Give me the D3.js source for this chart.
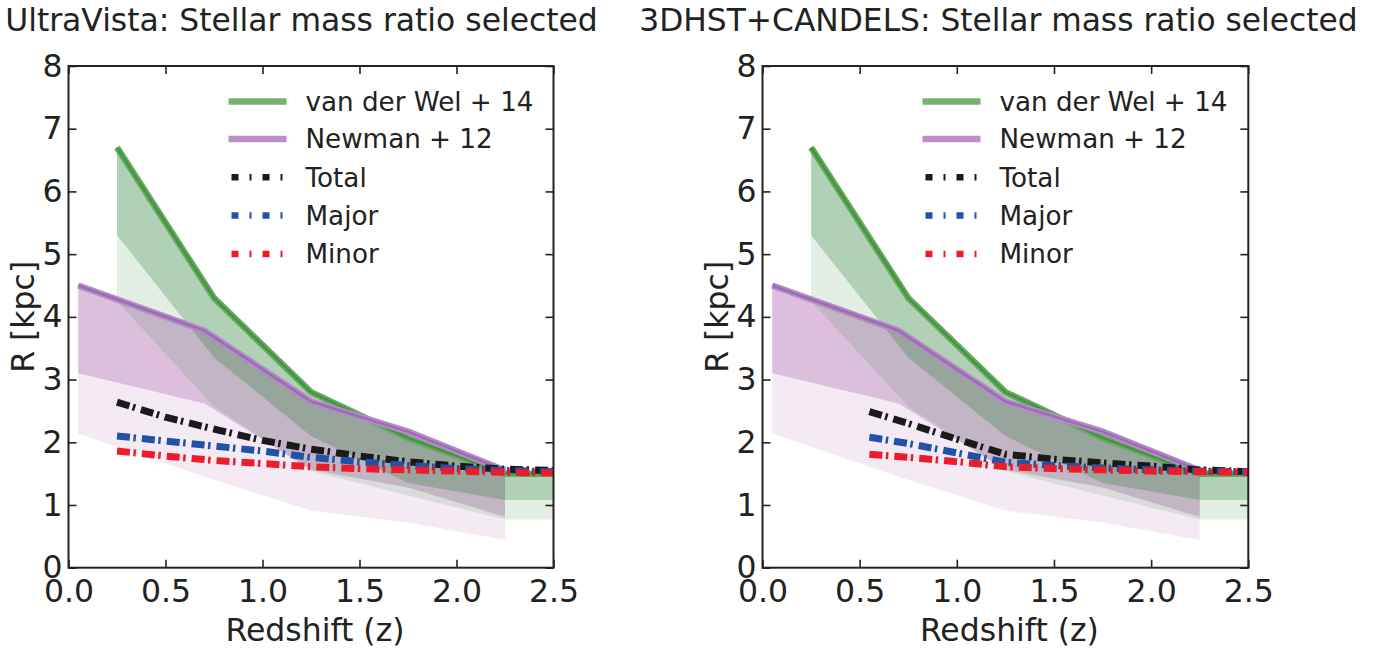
<!DOCTYPE html>
<html><head><meta charset="utf-8">
<script src="https://cdn.jsdelivr.net/npm/d3@7"></script>
<style>
body{margin:0;background:#fff}
svg{display:block}
text{font-family:"DejaVu Sans",sans-serif;fill:#222}
</style>
</head><body>
<svg id="chart" width="1388" height="654"></svg>
<script>
// ---------- data ----------
const titles = ["UltraVista: Stellar mass ratio selected", "3DHST+CANDELS: Stellar mass ratio selected"];
const xTicks = [0, 0.5, 1.0, 1.5, 2.0, 2.5];
const yTicks = [0, 1, 2, 3, 4, 5, 6, 7, 8];
const legendLabels = ["van der Wel + 14", "Newman + 12", "Total", "Major", "Minor"];

// van der Wel + 14 (green)
const zGreen = [0.25, 0.75, 1.25, 1.75, 2.25, 2.5];
const greenLine  = [6.7, 4.3, 2.8, 2.07, 1.5, 1.5];
const greenInner = [5.3, 3.35, 2.1, 1.35, 1.08, 1.08];
const greenOuter = [4.25, 2.57, 1.54, 1.15, 0.77, 0.77];

// Newman + 12 (purple)
const zPurple = [0.05, 0.7, 1.25, 1.75, 2.25];
const purpleLine  = [4.5, 3.78, 2.65, 2.17, 1.55];
const purpleInner = [3.1, 2.62, 1.56, 1.28, 0.81];
const purpleOuter = [2.14, 1.45, 0.91, 0.72, 0.44];

// UltraVista model curves
const zUV = [0.25, 0.5, 0.75, 1.0, 1.25, 1.5, 1.75, 2.0, 2.25, 2.5];
const totalUV = [2.64, 2.4, 2.21, 2.03, 1.89, 1.78, 1.69, 1.62, 1.57, 1.55];
const majorUV = [2.1, 2.02, 1.94, 1.86, 1.76, 1.69, 1.63, 1.58, 1.55, 1.53];
const minorUV = [1.86, 1.78, 1.71, 1.66, 1.61, 1.58, 1.56, 1.54, 1.52, 1.51];

// 3DHST+CANDELS model curves
const zCA = [0.55, 0.75, 1.0, 1.25, 1.5, 1.75, 2.0, 2.25, 2.5];
const totalCA = [2.49, 2.3, 2.05, 1.81, 1.73, 1.67, 1.62, 1.56, 1.53];
const majorCA = [2.08, 1.98, 1.83, 1.68, 1.63, 1.59, 1.56, 1.54, 1.53];
const minorCA = [1.81, 1.76, 1.69, 1.61, 1.58, 1.56, 1.54, 1.53, 1.52];

// ---------- drawing ----------
const svg = d3.select("#chart");
svg.append("rect").attr("width",1388).attr("height",654).attr("fill","#fff");

const panels = [
  {title: titles[0], left: 68.5, right: 553.5, titleX: 301.5, titleSize: 31.4, z: zUV, total: totalUV, major: majorUV, minor: minorUV},
  {title: titles[1], left: 762.5, right: 1248.3, titleX: 998.5, titleSize: 31.3, z: zCA, total: totalCA, major: majorCA, minor: minorCA}
];
const TOP = 66, BOTTOM = 567.7;
const FS = 31.5;
const colTotal = "#1a1a1a", colMajor = "#2152a8", colMinor = "#ec1c2a";

panels.forEach((p, pi) => {
  const x = d3.scaleLinear().domain([0, 2.5]).range([p.left, p.right]);
  const y = d3.scaleLinear().domain([0, 8]).range([BOTTOM, TOP]);
  const g = svg.append("g");

  const clipId = "clip" + pi;
  svg.append("clipPath").attr("id", clipId).append("rect")
    .attr("x", p.left).attr("y", TOP).attr("width", p.right - p.left).attr("height", BOTTOM - TOP);
  const plot = g.append("g").attr("clip-path", `url(#${clipId})`);

  const band = (zs, lo, hi) => d3.area()
    .x((d, i) => x(zs[i])).y0((d, i) => y(lo[i])).y1((d, i) => y(hi[i]))(zs);
  const line = (zs, vs) => d3.line().x((d, i) => x(zs[i])).y((d, i) => y(vs[i]))(zs);

  // purple bands
  plot.append("path").attr("d", band(zPurple, purpleOuter, purpleInner)).attr("fill", "rgb(130,25,130)").attr("fill-opacity", 0.09);
  plot.append("path").attr("d", band(zPurple, purpleInner, purpleLine)).attr("fill", "rgb(130,25,130)").attr("fill-opacity", 0.28);
  // green bands
  plot.append("path").attr("d", band(zGreen, greenOuter, greenInner)).attr("fill", "rgb(0,110,10)").attr("fill-opacity", 0.11);
  plot.append("path").attr("d", band(zGreen, greenInner, greenLine)).attr("fill", "rgb(0,106,16)").attr("fill-opacity", 0.31);

  // literature lines
  plot.append("path").attr("d", line(zGreen, greenLine)).attr("fill", "none").attr("stroke", "#66a960").attr("stroke-width", 6.5);
  plot.append("path").attr("d", line(zGreen, greenLine)).attr("fill", "none").attr("stroke", "#449540").attr("stroke-width", 2.5);
  plot.append("path").attr("d", line(zPurple, purpleLine)).attr("fill", "none").attr("stroke", "#b38bc6").attr("stroke-width", 6.5);
  plot.append("path").attr("d", line(zPurple, purpleLine)).attr("fill", "none").attr("stroke", "#9a6db2").attr("stroke-width", 2.5);

  // model dash-dot lines
  [[p.total, colTotal], [p.major, colMajor], [p.minor, colMinor]].forEach(([vals, c]) => {
    plot.append("path").attr("d", line(p.z, vals)).attr("fill", "none").attr("stroke", c)
      .attr("stroke-width", 7).attr("stroke-dasharray", "13,3.5,2.5,6").attr("stroke-linecap", "butt");
  });

  // axes
  const styleAxis = sel => {
    sel.select(".domain").remove();
    sel.selectAll(".tick line").attr("stroke", "#222").attr("stroke-width", 1.6);
    sel.selectAll("text").attr("font-size", FS).attr("font-family", '"DejaVu Sans", sans-serif').attr("fill", "#222");
  };
  g.append("g").attr("transform", `translate(0,${BOTTOM})`)
    .call(d3.axisBottom(x).tickValues(xTicks).tickFormat(d3.format(".1f")).tickSizeInner(-8).tickSizeOuter(0).tickPadding(12))
    .call(styleAxis);
  g.append("g").attr("transform", `translate(0,${TOP})`)
    .call(d3.axisTop(x).tickValues(xTicks).tickFormat("").tickSizeInner(-8).tickSizeOuter(0))
    .call(styleAxis);
  g.append("g").attr("transform", `translate(${p.left},0)`)
    .call(d3.axisLeft(y).tickValues(yTicks).tickFormat(d3.format("d")).tickSizeInner(-8).tickSizeOuter(0).tickPadding(6))
    .call(styleAxis);
  g.append("g").attr("transform", `translate(${p.right},0)`)
    .call(d3.axisRight(y).tickValues(yTicks).tickFormat("").tickSizeInner(-8).tickSizeOuter(0))
    .call(styleAxis);

  g.append("rect").attr("x", p.left).attr("y", TOP).attr("width", p.right - p.left).attr("height", BOTTOM - TOP)
    .attr("fill", "none").attr("stroke", "#222").attr("stroke-width", 2);

  // labels
  g.append("text").attr("x", p.titleX).attr("y", 31).attr("text-anchor", "middle").attr("font-size", p.titleSize).text(p.title);
  g.append("text").attr("x", (p.left + p.right) / 2 + 4).attr("y", 641).attr("text-anchor", "middle").attr("font-size", FS).text("Redshift (z)");
  g.append("text").attr("transform", `translate(${p.left - 35},${(TOP + BOTTOM) / 2}) rotate(-90)`)
    .attr("text-anchor", "middle").attr("font-size", FS).text("R [kpc]");

  // legend
  const lx0 = p.left + 160, lx1 = p.left + 218, tx = p.left + 237;
  const rows = [101.5, 139, 177.3, 215.5, 254];
  const leg = g.append("g");
  leg.append("line").attr("x1", lx0).attr("x2", lx1).attr("y1", rows[0]).attr("y2", rows[0]).attr("stroke", "#78b26f").attr("stroke-width", 6.5);
  leg.append("line").attr("x1", lx0).attr("x2", lx1).attr("y1", rows[1]).attr("y2", rows[1]).attr("stroke", "#bb90c6").attr("stroke-width", 6.5);
  [colTotal, colMajor, colMinor].forEach((c, i) => {
    leg.append("line").attr("x1", lx0 + 3).attr("x2", lx1 - 4).attr("y1", rows[i + 2]).attr("y2", rows[i + 2])
      .attr("stroke", c).attr("stroke-width", 6.5).attr("stroke-dasharray", "7,11,2,11");
  });
  legendLabels.forEach((t, i) => {
    leg.append("text").attr("x", tx).attr("y", rows[i] + 9.4).attr("font-size", 26.2).text(t);
  });
});
</script>
</body></html>
